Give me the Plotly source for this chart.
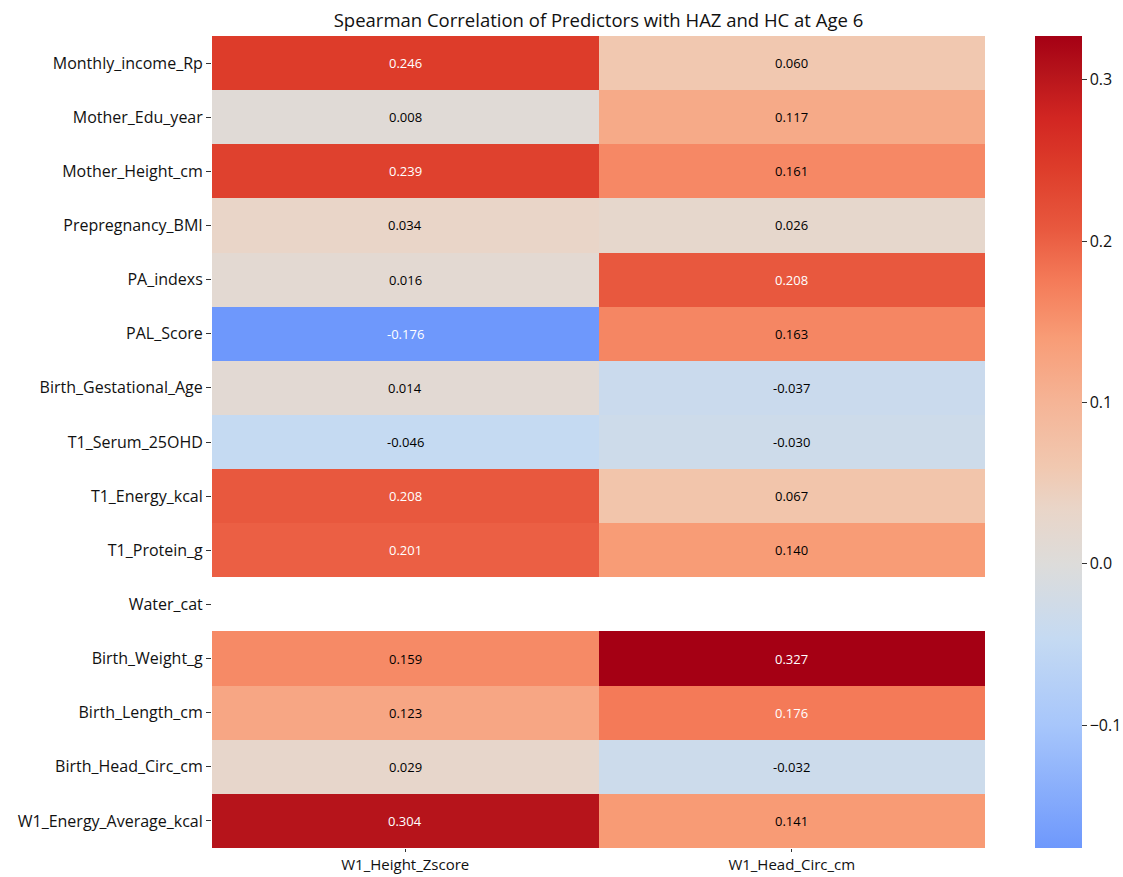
import plotly.graph_objects as go

predictors = ["Monthly_income_Rp", "Mother_Edu_year", "Mother_Height_cm", "Prepregnancy_BMI",
              "PA_indexs", "PAL_Score", "Birth_Gestational_Age", "T1_Serum_25OHD",
              "T1_Energy_kcal", "T1_Protein_g", "Water_cat", "Birth_Weight_g",
              "Birth_Length_cm", "Birth_Head_Circ_cm", "W1_Energy_Average_kcal"]
outcomes = ["W1_Height_Zscore", "W1_Head_Circ_cm"]

haz = [0.246, 0.008, 0.239, 0.034, 0.016, -0.176, 0.014, -0.046, 0.208, 0.201, None, 0.159, 0.123, 0.029, 0.304]
hc = [0.060, 0.117, 0.161, 0.026, 0.208, 0.163, -0.037, -0.030, 0.067, 0.140, None, 0.327, 0.176, -0.032, 0.141]

zmin, zmax = -0.176, 0.327

# (value, colour) anchors
anchors = [(-0.176, "rgb(110,152,252)"), (-0.1, "rgb(167,198,251)"), (-0.046, "rgb(197,218,242)"),
           (0.0, "rgb(221,220,218)"), (0.034, "rgb(233,213,200)"), (0.060, "rgb(241,200,176)"),
           (0.1, "rgb(245,180,150)"), (0.140, "rgb(248,156,118)"), (0.176, "rgb(244,122,88)"),
           (0.208, "rgb(232,88,62)"), (0.246, "rgb(221,60,42)"), (0.276, "rgb(210,38,34)"),
           (0.304, "rgb(182,20,27)"), (0.327, "rgb(165,0,20)")]
colorscale = [[(v - zmin) / (zmax - zmin), c] for v, c in anchors]
colorscale[0][0] = 0.0
colorscale[-1][0] = 1.0

z = [[a, b] for a, b in zip(haz, hc)]

font_family = "Open Sans, Inter, sans-serif"

fig = go.Figure(go.Heatmap(
    z=z, x=outcomes, y=predictors, zmin=zmin, zmax=zmax, colorscale=colorscale,
    xgap=0, ygap=0, hoverongaps=False,
    colorbar=dict(thickness=47, len=1, lenmode="fraction", y=0.5, yanchor="middle",
                  x=1.0647, xanchor="left", xpad=0, ypad=0, outlinewidth=0,
                  tickvals=[-0.1, 0.0, 0.1, 0.2, 0.3], tickformat=".1f",
                  ticks="outside", ticklen=5, tickcolor="#333", tickwidth=1,
                  tickfont=dict(size=16, color="#111", family=font_family)),
))

for i, p in enumerate(predictors):
    for j, o in enumerate(outcomes):
        v = z[i][j]
        if v is None:
            continue
        col = "white" if (v > 0.17 or v < -0.15) else "black"
        fig.add_annotation(x=o, y=p, text=f"{v:.3f}", showarrow=False,
                           font=dict(size=13, color=col, family=font_family))

fig.update_layout(
    width=1123, height=877,
    margin=dict(l=212, r=138, t=36, b=29, autoexpand=False),
    paper_bgcolor="white", plot_bgcolor="white",
    title=dict(text="Spearman Correlation of Predictors with HAZ and HC at Age 6",
               x=(212 + 985) / 2 / 1123, xanchor="center", y=1 - 21 / 877, yanchor="middle",
               font=dict(size=18.5, color="#111", family=font_family)),
    font=dict(family=font_family, color="#111"),
)
fig.update_xaxes(showgrid=False, zeroline=False, ticks="outside", ticklen=3, tickcolor="#333",
                 tickfont=dict(size=15, color="#111"), automargin=False, showline=False)
fig.update_yaxes(showgrid=False, zeroline=False, ticks="outside", ticklen=5, tickcolor="#333",
                 tickfont=dict(size=16, color="#111"), automargin=False, autorange="reversed",
                 showline=False)

fig.write_html("out.html", config={"displayModeBar": False},
               post_script="document.body.style.margin='0';document.body.style.padding='0';document.body.style.overflow='hidden';")
